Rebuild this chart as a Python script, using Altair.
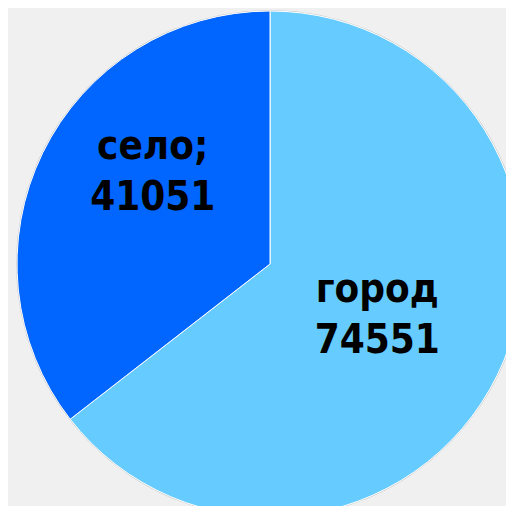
import altair as alt
import pandas as pd

categories = ["город", "село"]
values = [74551, 41051]
label_heads = ["город", "село;"]
colors = ["#66CCFF", "#0066FF"]

df = pd.DataFrame({
    "cat": categories,
    "val": values,
    "head": label_heads,
    "idx": list(range(len(categories))),
})
df["label"] = df["head"] + "\n" + df["val"].astype(str)
total = int(sum(values))

CX, CY, R = 262, 256, 253
theta_scale = alt.Scale(domain=[0, total])

base = alt.Chart(df).transform_stack(
    stack="val", as_=["v0", "v1"], groupby=[], sort=[alt.SortField("idx", "ascending")]
).transform_calculate(mid="(datum.v0 + datum.v1) / 2")

pie = base.mark_arc(stroke="white", strokeWidth=1).encode(
    theta=alt.Theta("v0:Q", scale=theta_scale),
    theta2="v1:Q",
    color=alt.Color("cat:N", scale=alt.Scale(domain=categories, range=colors), legend=None),
    x=alt.value(CX), y=alt.value(CY), radius=alt.value(R),
)

outline = alt.Chart(df).transform_aggregate(n="count()").mark_point(
    shape="circle", filled=False, stroke="#b4b4b4", strokeWidth=1, size=(2 * R + 1) ** 2
).encode(x=alt.value(CX), y=alt.value(CY))

def lab(cat, dx, dy):
    return base.transform_filter(alt.datum.cat == cat).mark_text(
        font="DejaVu Sans Condensed", fontWeight="bold", fontSize=40, color="black",
        lineBreak="\n", lineHeight=51, align="center", baseline="middle",
        dx=dx, dy=dy,
    ).encode(
        theta=alt.Theta("mid:Q", scale=theta_scale),
        text="label:N", x=alt.value(CX), y=alt.value(CY), radius=alt.value(125),
    )

chart = alt.layer(outline, pie, lab("город", -5, -29), lab("село", -5, -62)).properties(
    width=498, height=498, autosize="none", padding=0, background="#F0F0F0",
).configure_view(stroke=None)

chart.save("out.html", embed_options={"renderer": "svg", "actions": False})
